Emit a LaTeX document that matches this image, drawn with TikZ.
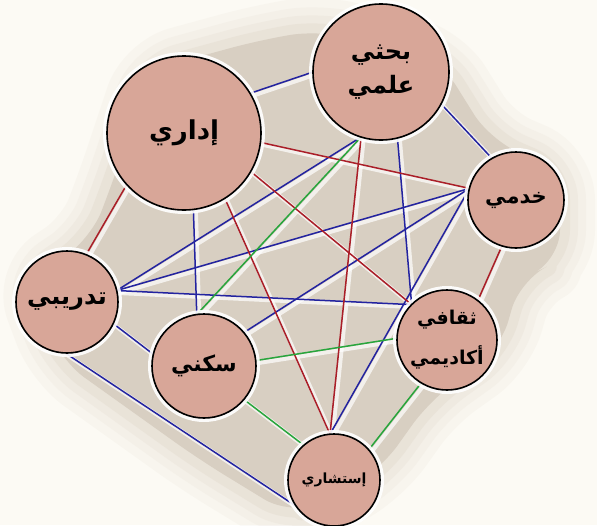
\documentclass[tikz,border=0pt]{standalone}
\usepackage{fontspec}
\newfontfamily\arabicfont[Script=Arabic]{DejaVu Sans}
\TeXXeTstate=1
\usetikzlibrary{calc}
\definecolor{bgcream}{RGB}{252,250,244}
\definecolor{shadowc}{RGB}{222,212,198}
\definecolor{panel}{RGB}{216,207,194}
\definecolor{circfill}{RGB}{216,166,152}
\definecolor{eblue}{RGB}{35,35,160}
\definecolor{ered}{RGB}{170,30,40}
\definecolor{egreen}{RGB}{40,165,60}
\pgfdeclarelayer{back}
\pgfdeclarelayer{mid}
\pgfsetlayers{back,mid,main}
\tikzset{
  circnode/.style={circle, draw=black, line width=1.6pt, fill=circfill,
    inner sep=0pt, outer sep=0pt, align=center,
    font=\arabicfont\bfseries\fontsize{20}{26}\selectfont,
    preaction={draw=white, line width=8pt, opacity=0.9}},
  halo/.style={draw=white, line width=4pt, opacity=0.7},
  bl/.style={draw=eblue, line width=1.5pt},
  rd/.style={draw=ered, line width=1.5pt},
  gr/.style={draw=egreen, line width=1.5pt},
}
\newcommand{\ar}[1]{\beginR #1\endR}
\begin{document}
\begin{tikzpicture}[x=1pt,y=-1pt]
\useasboundingbox (0,0) rectangle (597,525);

\node[circnode, minimum size=154pt, font=\arabicfont\bfseries\fontsize{26}{30}\selectfont] (idari) at (184,133) {\ar{إداري}};
\node[circnode, minimum size=136pt, font=\arabicfont\bfseries\fontsize{24}{34}\selectfont] (bahth) at (381,72) {\ar{بحثي}\\\ar{علمي}};
\node[circnode, minimum size=96pt, font=\arabicfont\bfseries\fontsize{21}{26}\selectfont] (khadami) at (516,200) {\ar{خدمي}};
\node[circnode, minimum size=102pt, font=\arabicfont\bfseries\fontsize{24}{28}\selectfont] (tadrib) at (67,302) {\ar{تدريبي}};
\node[circnode, minimum size=104pt, font=\arabicfont\bfseries\fontsize{22}{28}\selectfont] (sakani) at (204,366) {\ar{سكني}};
\node[circnode, minimum size=100pt, font=\arabicfont\bfseries\fontsize{19}{40}\selectfont] (thaqafi) at (447,340) {\ar{ثقافي}\\\ar{أكاديمي}};
\node[circnode, minimum size=92pt, font=\arabicfont\bfseries\fontsize{14}{18}\selectfont] (istishari) at (334,480) {\ar{إستشاري}};

\begin{pgfonlayer}{back}
  \fill[bgcream] (0,0) rectangle (597,525);
  \foreach \w/\o in {70/0.12,52/0.15,36/0.2,20/0.3}{
    \draw[shadowc, line width=\w pt, opacity=\o, rounded corners=30pt, line join=round]
      (110,190) -- (150,70) -- (260,40) -- (320,30) -- (440,60) -- (490,140) -- (560,170)
      -- (560,260) -- (520,280) -- (500,350) -- (430,400) -- (380,470) -- (330,500)
      -- (290,515) -- (200,460) -- (60,360) -- (30,280) -- (90,240) -- cycle;
  }
  \fill[panel, rounded corners=30pt]
      (110,190) -- (150,70) -- (260,40) -- (320,30) -- (440,60) -- (490,140) -- (560,170)
      -- (560,260) -- (520,280) -- (500,350) -- (430,400) -- (380,470) -- (330,500)
      -- (290,515) -- (200,460) -- (60,360) -- (30,280) -- (90,240) -- cycle;
\end{pgfonlayer}

\begin{pgfonlayer}{mid}
  \begin{scope}[halo, transform canvas={xshift=2.5pt, yshift=-2.5pt}]
    \draw (idari.31) -- (bahth.180);
    \draw (bahth.-28) -- (khadami.120);
    \draw (idari.-83) -- (sakani.98);
    \draw (bahth.253) -- (tadrib.13);
    \draw (bahth.-76) -- (thaqafi.135);
    \draw (khadami.166) -- (tadrib.13);
    \draw (khadami.166) -- (sakani.40);
    \draw (khadami.166) -- (istishari.95);
    \draw (tadrib.13) -- (thaqafi.135);
    \draw (tadrib.-25) -- (sakani.167);
    \draw (tadrib.-92) -- (istishari.215);
    \draw (idari.222) -- (tadrib.68);
    \draw (idari.-7) -- (khadami.166);
    \draw (idari.-30) -- (thaqafi.135);
    \draw (idari.-58) -- (istishari.95);
    \draw (bahth.253) -- (istishari.95);
    \draw (khadami.-107) -- (thaqafi.52);
    \draw (bahth.253) -- (sakani.98);
    \draw (sakani.6) -- (thaqafi.178);
    \draw (sakani.-40) -- (istishari.131);
    \draw (thaqafi.-121) -- (istishari.41);
  \end{scope}
  % blue
  \draw[bl] (idari.31) -- (bahth.180);
  \draw[bl] (bahth.-28) -- (khadami.120);
  \draw[bl] (idari.-83) -- (sakani.98);
  \draw[bl] (bahth.253) -- (tadrib.13);
  \draw[bl] (bahth.-76) -- (thaqafi.135);
  \draw[bl] (khadami.166) -- (tadrib.13);
  \draw[bl] (khadami.166) -- (sakani.40);
  \draw[bl] (khadami.166) -- (istishari.95);
  \draw[bl] (tadrib.13) -- (thaqafi.135);
  \draw[bl] (tadrib.-25) -- (sakani.167);
  \draw[bl] (tadrib.-92) -- (istishari.215);
  % red
  \draw[rd] (idari.222) -- (tadrib.68);
  \draw[rd] (idari.-7) -- (khadami.166);
  \draw[rd] (idari.-30) -- (thaqafi.135);
  \draw[rd] (idari.-58) -- (istishari.95);
  \draw[rd] (bahth.253) -- (istishari.95);
  \draw[rd] (khadami.-107) -- (thaqafi.52);
  % green
  \draw[gr] (bahth.253) -- (sakani.98);
  \draw[gr] (sakani.6) -- (thaqafi.178);
  \draw[gr] (sakani.-40) -- (istishari.131);
  \draw[gr] (thaqafi.-121) -- (istishari.41);
\end{pgfonlayer}
\end{tikzpicture}
\end{document}
